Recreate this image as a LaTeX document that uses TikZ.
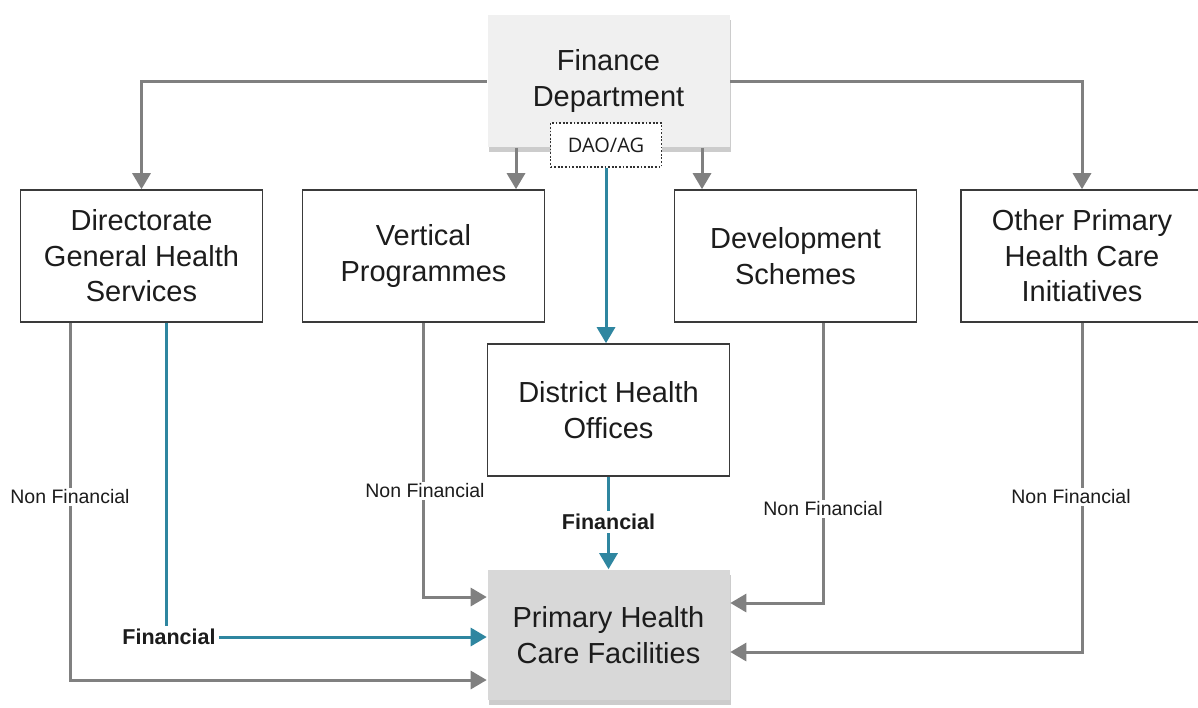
\documentclass[tikz,border=0pt]{standalone}
\usepackage{fontspec}
\setmainfont{Liberation Sans}
\newfontfamily\daofont{Open Sans}
\usetikzlibrary{arrows.meta,shadows,calc}
\definecolor{flowgray}{HTML}{808080}
\definecolor{finteal}{HTML}{2F86A0}
\definecolor{boxline}{HTML}{3A3A3A}
\definecolor{textdark}{HTML}{1C1C1C}
\definecolor{deptfill}{HTML}{F0F0F0}
\definecolor{facfill}{HTML}{D8D8D8}
\begin{document}
\begin{tikzpicture}[x=1pt,y=-1pt,
  box/.style={draw=boxline,line width=1.6pt,fill=white,align=center,text=textdark,
    font=\fontsize{29}{35.5}\selectfont,inner sep=0pt,
    minimum width=242pt,minimum height=132pt},
  shadowed/.style={draw=none,drop shadow={shadow xshift=1pt,shadow yshift=-5pt,fill=black,opacity=0.2}},
  conn/.style={draw=flowgray,line width=3pt,-{Triangle[length=16pt,width=18pt]}},
  money/.style={draw=finteal,line width=3pt,-{Triangle[length=16pt,width=18pt]}},
  moneyline/.style={draw=finteal,line width=3pt},
  nflabel/.style={fill=white,text=textdark,font=\fontsize{19.5}{22}\selectfont,inner sep=2pt},
  flabel/.style={text=textdark,font=\bfseries\fontsize{21.5}{24}\selectfont,inner sep=3pt}]
\clip (0,0) rectangle (1198,707);
\fill[white] (0,0) rectangle (1198,707);

% boxes
\node[box,shadowed,fill=deptfill] (fin) at (608.5,81) {Finance\\Department};
\node[draw=boxline!85!black,line width=1.8pt,dash pattern=on 1.8pt off 1.8pt,fill=white,
  minimum width=111pt,minimum height=44pt,inner sep=0pt,text=textdark,
  font=\daofont\fontsize{20}{24}\selectfont] (dao) at (606,145) {DAO/AG};
\node[box] (dgh) at (141.5,256) {Directorate\\General Health\\Services};
\node[box] (vp) at (423.5,256) {Vertical\\Programmes};
\node[box] (ds) at (795.5,256) {Development\\Schemes};
\node[box] (oth) at (1082,256) {Other Primary\\Health Care\\Initiatives};
\node[box] (dho) at (608.5,410) {District Health\\Offices};
\node[box,shadowed,fill=facfill,minimum height=130pt] (phc) at (608.5,635) {Primary Health\\Care Facilities};

% Finance Department to the programme boxes
\draw[conn] (fin.west) -| (dgh.north);
\draw[conn] (fin.east) -| (oth.north);
\draw[conn] ([xshift=-92.5pt]fin.south) -- ([xshift=-92.5pt]fin.south |- vp.north);
\draw[conn] ([xshift=93.5pt]fin.south) -- ([xshift=93.5pt]fin.south |- ds.north);

% DAO/AG to district offices
\draw[money] (dao.south) -- (dao.south |- dho.north);

% district offices to facilities
\node[flabel] (f1) at (608.5,522) {Financial};
\draw[moneyline] (dho.south) -- (f1.north);
\draw[money] (f1.south) -- (phc.north);

% directorate financial flow
\node[flabel] (f2) at (169,637) {Financial};
\draw[moneyline] ([xshift=24.5pt]dgh.south) -- ([xshift=24.5pt]dgh.south |- f2.north);
\draw[money] (f2.east) -- (f2.east -| phc.west);

% non financial flows
\draw[conn] ([xshift=-71.5pt]dgh.south) |- ($(phc.west)+(0,45)$);
\draw[conn] (vp.south) |- ($(phc.west)+(0,-38)$);
\draw[conn] ([xshift=27.5pt]ds.south) |- ($(phc.east)+(0,-32)$);
\draw[conn] (oth.south) |- ($(phc.east)+(0,17)$);

\node[nflabel] (nf1) at (70,497) {Non Financial};
\node[nflabel] (nf2) at (425,491) {Non Financial};
\node[nflabel] (nf3) at (823,509) {Non Financial};
\node[nflabel] (nf4) at (1071,497) {Non Financial};
\end{tikzpicture}
\end{document}
